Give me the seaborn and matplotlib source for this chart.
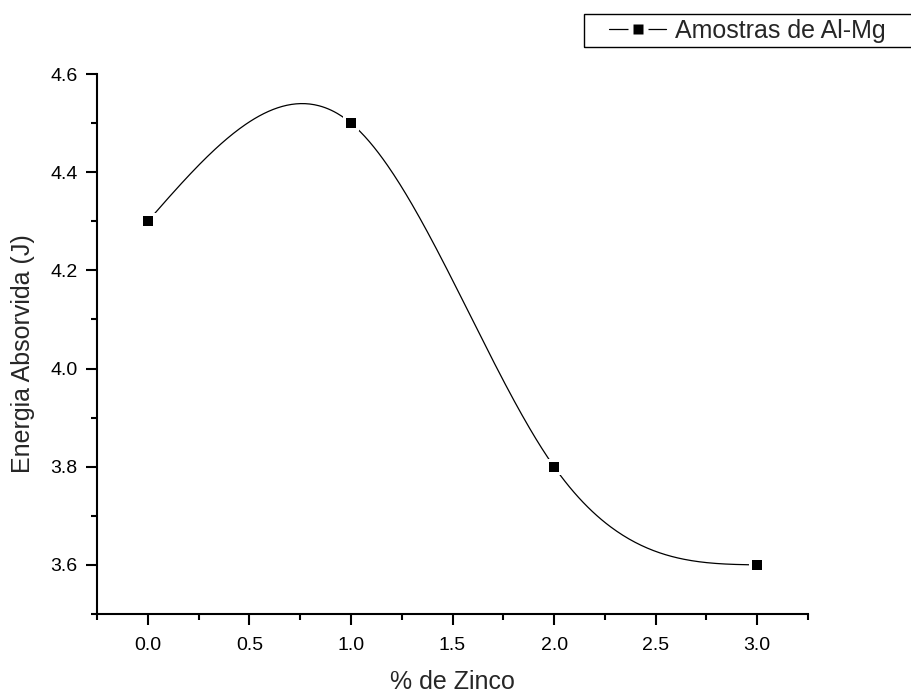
import numpy as np
import pandas as pd
import matplotlib
matplotlib.use("Agg")
import matplotlib.pyplot as plt
from matplotlib.lines import Line2D
from matplotlib.patches import Rectangle
from matplotlib.ticker import MultipleLocator
import seaborn as sns

# ---- data ----
zinco = [0.0, 1.0, 2.0, 3.0]
energia = [4.3, 4.5, 3.8, 3.6]
serie = "Amostras de Al-Mg"
x_label = "% de Zinco"
y_label = "Energia Absorvida (J)"
x_ticks = [0.0, 0.5, 1.0, 1.5, 2.0, 2.5, 3.0]
y_ticks = [3.6, 3.8, 4.0, 4.2, 4.4, 4.6]


def natural_spline(x, y, xs):
    x = np.asarray(x, float); y = np.asarray(y, float)
    n = len(x)
    h = np.diff(x)
    A = np.zeros((n, n)); b = np.zeros(n)
    A[0, 0] = 1; A[-1, -1] = 1
    for i in range(1, n - 1):
        A[i, i - 1] = h[i - 1]
        A[i, i] = 2 * (h[i - 1] + h[i])
        A[i, i + 1] = h[i]
        b[i] = 6 * ((y[i + 1] - y[i]) / h[i] - (y[i] - y[i - 1]) / h[i - 1])
    M = np.linalg.solve(A, b)
    out = np.empty_like(xs)
    for k, xv in enumerate(xs):
        i = min(max(np.searchsorted(x, xv) - 1, 0), n - 2)
        t1 = x[i + 1] - xv; t0 = xv - x[i]
        out[k] = (M[i] * t1**3 / (6 * h[i]) + M[i + 1] * t0**3 / (6 * h[i])
                  + (y[i] / h[i] - M[i] * h[i] / 6) * t1
                  + (y[i + 1] / h[i] - M[i + 1] * h[i] / 6) * t0)
    return out


xs = np.linspace(zinco[0], zinco[-1], 400)
curve = pd.DataFrame({"x": xs, "y": natural_spline(zinco, energia, xs)})
pts = pd.DataFrame({"x": zinco, "y": energia})

sns.set_style("ticks")
plt.rcParams["font.family"] = ["Liberation Sans", "DejaVu Sans"]

fig = plt.figure(figsize=(9.12, 6.93), dpi=100)
ax = fig.add_axes([0.1064, 0.114, 0.7796, 0.7792])

sns.lineplot(data=curve, x="x", y="y", ax=ax, color="black", lw=0.9, zorder=2)
# white halo to create gaps around markers (Origin style)
sns.scatterplot(data=pts, x="x", y="y", ax=ax, marker="s", s=11.5**2,
                color="white", edgecolor="none", linewidth=0, zorder=3)
sns.scatterplot(data=pts, x="x", y="y", ax=ax, marker="s", s=7.5**2,
                color="black", edgecolor="none", linewidth=0, zorder=4)

ax.set_xlim(-0.25, 3.25)
ax.set_ylim(3.5, 4.6)
ax.set_xticks(x_ticks)
ax.set_yticks(y_ticks)
ax.set_xticklabels([f"{v:.1f}" for v in x_ticks], fontsize=14)
ax.set_yticklabels([f"{v:.1f}" for v in y_ticks], fontsize=14)
ax.xaxis.set_minor_locator(MultipleLocator(0.25))
ax.yaxis.set_minor_locator(MultipleLocator(0.1))
ax.tick_params(which="major", direction="out", length=8, width=1.5,
               pad=6, color="black", labelcolor="black")
ax.tick_params(axis="x", which="major", pad=8.5)
ax.tick_params(which="minor", direction="out", length=4, width=1.5, color="black")
for s in ["top", "right"]:
    ax.spines[s].set_visible(False)
for s in ["left", "bottom"]:
    ax.spines[s].set_linewidth(1.5)
    ax.spines[s].set_color("black")
    ax.spines[s].set_capstyle("projecting")

ax.set_xlabel(x_label, fontsize=18)
ax.set_ylabel(y_label, fontsize=18)
ax.xaxis.set_label_coords(0.5, -0.104)
ax.yaxis.set_label_coords(-0.087, 0.483)

# legend
h_line = Line2D([], [], color="black", lw=0.9)
h_white = Line2D([], [], ls="none", marker="s", ms=14, mfc="white", mec="none")
h_black = Line2D([], [], ls="none", marker="s", ms=6.8, mfc="black", mec="none")
leg = fig.legend(handles=[(h_line, h_white, h_black)], labels=[serie],
                 loc="upper left", bbox_to_anchor=(609 / 912, 1 - 19 / 693),
                 frameon=False, fontsize=18, handlelength=2.3,
                 handletextpad=0.35, borderpad=0.0, borderaxespad=0,
                 numpoints=1)
fig.add_artist(Rectangle((584 / 912, 1 - 47 / 693), 340 / 912, 33 / 693,
                         transform=fig.transFigure, fill=False,
                         edgecolor="black", lw=1.0))

fig.savefig("out.png", dpi=100)
